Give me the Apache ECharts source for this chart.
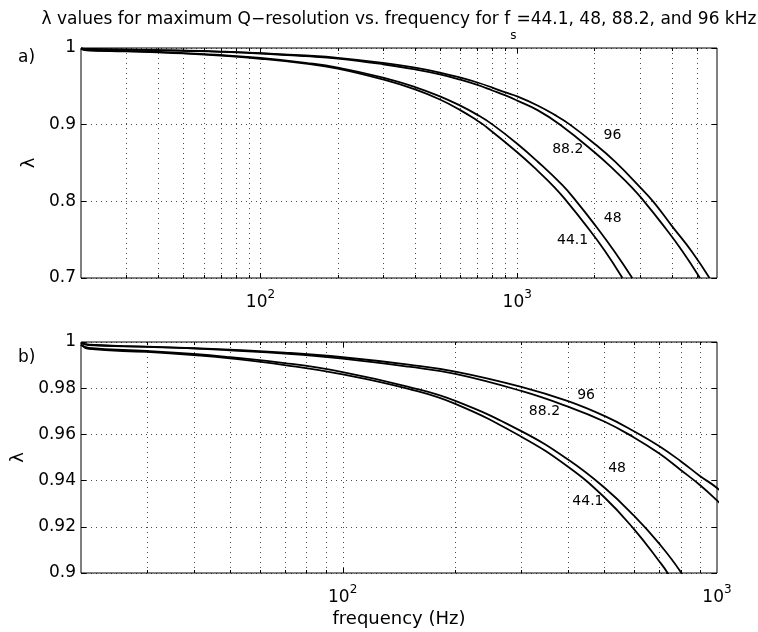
<!DOCTYPE html>
<html><head><meta charset="utf-8">
<script src="https://cdn.jsdelivr.net/npm/echarts@6/dist/echarts.min.js"></script>
<style>html,body{margin:0;padding:0;background:#fff}#c{width:758px;height:632px}</style>
</head><body><div id="c"></div>
<script>
const FONT = 'DejaVu Sans';

// ---- data ----
const f441 = [20, 21, 30, 40, 50, 70, 100, 150, 200, 300, 400, 500, 600, 700, 738, 1000, 1200, 1400, 1560, 1840, 2200, 2570];
const l441 = [0.9988, 0.9970, 0.9957, 0.9943, 0.9929, 0.9900, 0.9860, 0.9797, 0.9732, 0.9590, 0.9460, 0.9328, 0.9190, 0.9052, 0.9000, 0.8640, 0.8400, 0.8180, 0.8000, 0.7700, 0.7350, 0.7000];
const f48 = [20, 21, 30, 40, 50, 70, 100, 150, 200, 300, 400, 500, 600, 700, 800, 1000, 1200, 1500, 1700, 2000, 2400, 2806];
const l48 = [0.9988, 0.9974, 0.9961, 0.9948, 0.9934, 0.9909, 0.9870, 0.9806, 0.9745, 0.9614, 0.9491, 0.9370, 0.9248, 0.9128, 0.9004, 0.8752, 0.8520, 0.8210, 0.8000, 0.7700, 0.7340, 0.7000];
const f882 = [20, 21, 30, 40, 50, 70, 100, 150, 200, 300, 400, 500, 600, 700, 800, 900, 1000, 1200, 1470, 2000, 2400, 2800, 3120, 3680, 4400, 5150];
const l882 = [0.9996, 0.9987, 0.9979, 0.9972, 0.9964, 0.9950, 0.9928, 0.9893, 0.9862, 0.9788, 0.9720, 0.9656, 0.9587, 0.9518, 0.9446, 0.9381, 0.9314, 0.9190, 0.9000, 0.8640, 0.8400, 0.8180, 0.8000, 0.7700, 0.7350, 0.7000];
const f96 = [20, 21, 30, 40, 50, 70, 100, 150, 200, 300, 400, 500, 600, 700, 800, 900, 1000, 1200, 1400, 1600, 2000, 2400, 3000, 3400, 4000, 4800, 5610];
const l96 = [0.9996, 0.9988, 0.9980, 0.9973, 0.9967, 0.9954, 0.9934, 0.9902, 0.9872, 0.9806, 0.9744, 0.9680, 0.9614, 0.9550, 0.9484, 0.9420, 0.9368, 0.9250, 0.9128, 0.9004, 0.8752, 0.8520, 0.8190, 0.7990, 0.7680, 0.7340, 0.7000];

const seriesNames = ['44.1', '48', '88.2', '96'];
// curve label anchors (data coordinates)
const labTopF = [1643, 2356, 1573, 2350];
const labTopL = [0.7489, 0.7774, 0.8673, 0.8865];
const labBotF = [452, 541, 346, 447];
const labBotL = [0.9309, 0.9453, 0.9698, 0.9768];

// axis ranges and tick values
const xTopRange = [20, 6000];
const xBotRange = [20, 1000];
const yTopRange = [0.7, 1];
const yBotRange = [0.9, 1];
const yTopStep = 0.1;
const yBotStep = 0.02;
const xGridTop = [30, 40, 50, 60, 70, 80, 90, 100, 200, 300, 400, 500, 600, 700, 800, 900, 1000, 2000, 3000, 4000, 5000];
const xGridBot = [30, 40, 50, 60, 70, 80, 90, 100, 200, 300, 400, 500, 600, 700, 800, 900];

const titlePre = 'λ values for maximum Q−resolution vs. frequency for f';
const titleSub = 's';
const titlePost = '=44.1, 48, 88.2, and 96 kHz';

// ---- chart ----
const zip = (a, b) => a.map((v, i) => [v, b[i]]);
const allF = [f441, f48, f882, f96];
const allL = [l441, l48, l882, l96];

function isPow10(v) {
  const lg = Math.log10(v);
  return Math.abs(lg - Math.round(lg)) < 1e-6;
}
const xRich = {
  b: { fontSize: 17, fontFamily: FONT, color: '#000', lineHeight: 22, verticalAlign: 'bottom' },
  p: { fontSize: 12, fontFamily: FONT, color: '#000', lineHeight: 22, verticalAlign: 'top' }
};
function xAx(gi, range, name) {
  return {
    type: 'log', logBase: 10, gridIndex: gi, min: range[0], max: range[1],
    axisLine: { show: false }, axisTick: { show: false }, splitLine: { show: false },
    axisLabel: {
      margin: 11, showMinLabel: true, showMaxLabel: true, hideOverlap: false,
      formatter: v => isPow10(v) ? '{b|10}{p|' + Math.round(Math.log10(v)) + '}' : '',
      rich: xRich
    },
    name: name || '', nameLocation: 'middle', nameGap: 37,
    nameTextStyle: { fontSize: 18, fontFamily: FONT, color: '#000' }
  };
}
function yAx(gi, range, step, right, gap) {
  return {
    type: 'value', gridIndex: gi, min: range[0], max: range[1], interval: step,
    position: right ? 'right' : 'left',
    axisLine: { show: false },
    axisTick: { show: true, inside: true, length: 5, lineStyle: { color: '#000', width: 1 } },
    axisLabel: {
      show: !right, margin: 5, color: '#000', fontSize: 17, fontFamily: FONT,
      formatter: v => String(parseFloat(v.toFixed(2)))
    },
    splitLine: { show: !right, lineStyle: { color: '#000', width: 1, type: [1, 4], opacity: 0.7 } },
    name: right ? '' : 'λ', nameLocation: 'middle', nameRotate: 90, nameGap: gap,
    nameTextStyle: { fontSize: 18, fontFamily: FONT, color: '#000' }
  };
}
function gridSeries(gi, vals, yr) {
  return {
    type: 'custom', xAxisIndex: gi, yAxisIndex: gi * 2, silent: true, z: 1,
    data: vals.map(v => [v, yr[0]]),
    encode: { x: 0, y: 1 },
    renderItem: function (params, api) {
      const f = api.value(0);
      const b = api.coord([f, yr[0]]);
      const t = api.coord([f, yr[1]]);
      const x = Math.round(b[0]) + 0.5;
      const len = isPow10(f) ? 5 : 3;
      return {
        type: 'group', children: [
          { type: 'line', shape: { x1: x, y1: t[1], x2: x, y2: b[1] }, style: { stroke: '#000', lineWidth: 1, lineDash: [1, 4], opacity: 0.7 } },
          { type: 'line', shape: { x1: x, y1: b[1], x2: x, y2: b[1] - len }, style: { stroke: '#000', lineWidth: 1 } },
          { type: 'line', shape: { x1: x, y1: t[1], x2: x, y2: t[1] + len }, style: { stroke: '#000', lineWidth: 1 } }
        ]
      };
    }
  };
}
function curveSeries(gi, k, labF, labL) {
  const s = {
    type: 'line', name: seriesNames[k], xAxisIndex: gi, yAxisIndex: gi * 2,
    data: zip(allF[k], allL[k]), showSymbol: false, symbol: 'none',
    smooth: 0.45, clip: true, silent: true, z: 3,
    lineStyle: { color: '#000', width: 1.8 }
  };
  if (k === 0) {
    s.markPoint = {
      symbol: 'circle', symbolSize: 1, silent: true,
      itemStyle: { color: 'rgba(0,0,0,0)' },
      label: { show: true, position: 'inside', formatter: '{b}', color: '#000', fontSize: 14, fontFamily: FONT },
      data: seriesNames.map((n, i) => ({ name: n, coord: [labF[i], labL[i]] }))
    };
  }
  return s;
}

const chart = echarts.init(document.getElementById('c'), null, { renderer: 'canvas' });
const series = [gridSeries(0, xGridTop, yTopRange), gridSeries(1, xGridBot, yBotRange)];
for (let k = 0; k < 4; k++) series.push(curveSeries(0, k, labTopF, labTopL));
for (let k = 0; k < 4; k++) series.push(curveSeries(1, k, labBotF, labBotL));

chart.setOption({
  animation: false,
  backgroundColor: '#fff',
  textStyle: { fontFamily: FONT },
  grid: [
    { left: 81, right: 41, top: 48, height: 230, show: true, borderColor: '#000', borderWidth: 1, backgroundColor: 'transparent' },
    { left: 81, right: 41, top: 342, height: 231, show: true, borderColor: '#000', borderWidth: 1, backgroundColor: 'transparent' }
  ],
  xAxis: [xAx(0, xTopRange), xAx(1, xBotRange, 'frequency (Hz)')],
  yAxis: [
    yAx(0, yTopRange, yTopStep, false, 43), yAx(0, yTopRange, yTopStep, true, 0),
    yAx(1, yBotRange, yBotStep, false, 54), yAx(1, yBotRange, yBotStep, true, 0)
  ],
  graphic: [
    {
      type: 'text', x: 399, y: 11, silent: true,
      style: {
        text: '{t|' + titlePre + '}{s|' + titleSub + '}{t|' + titlePost + '}',
        align: 'center', verticalAlign: 'top', textAlign: 'center', textVerticalAlign: 'top',
        rich: {
          t: { fontSize: 17, fontFamily: FONT, fill: '#000', color: '#000', lineHeight: 20, verticalAlign: 'top' },
          s: { fontSize: 12, fontFamily: FONT, fill: '#000', color: '#000', lineHeight: 31, verticalAlign: 'bottom' }
        }
      }
    },
    { type: 'text', x: 18, y: 57.5, silent: true, style: { text: 'a)', font: '17px "DejaVu Sans"', fill: '#000', verticalAlign: 'middle', textVerticalAlign: 'middle' } },
    { type: 'text', x: 18, y: 357.5, silent: true, style: { text: 'b)', font: '17px "DejaVu Sans"', fill: '#000', verticalAlign: 'middle', textVerticalAlign: 'middle' } }
  ],
  series: series
});
</script>
</body></html>
